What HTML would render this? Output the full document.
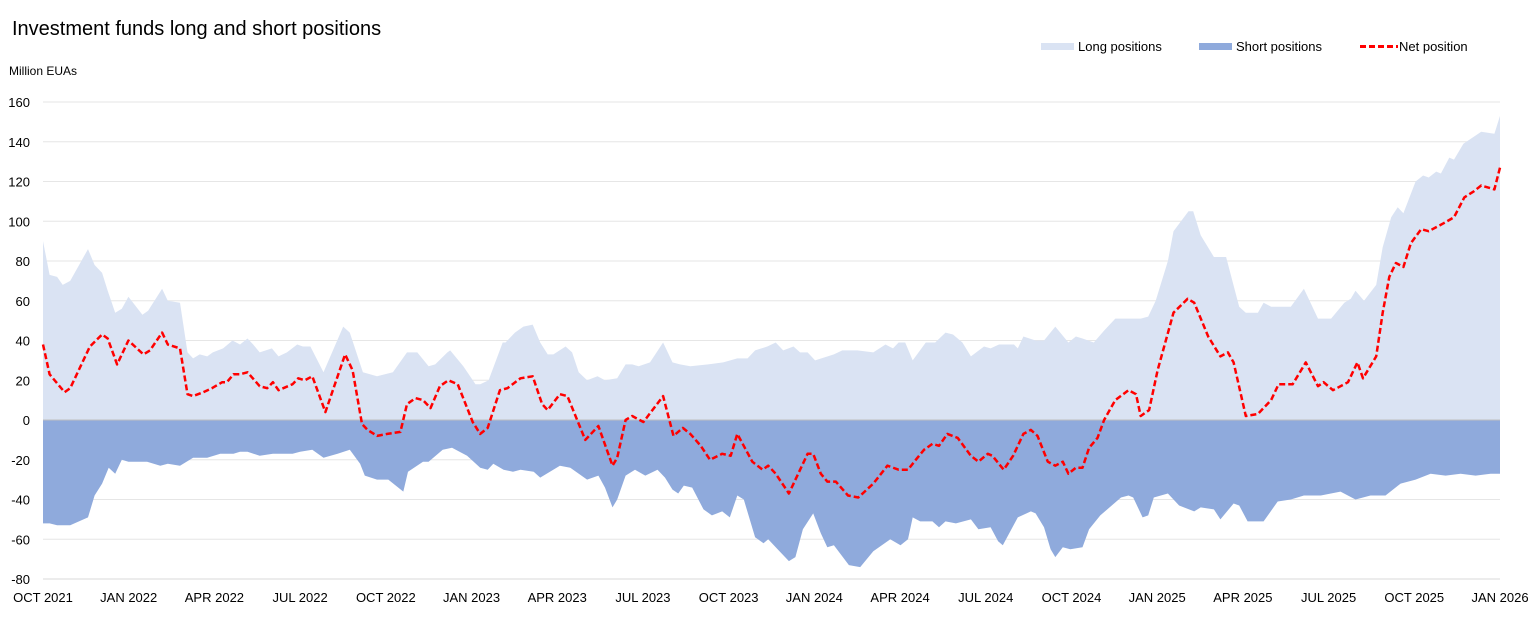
<!DOCTYPE html>
<html><head><meta charset="utf-8"><style>
body{margin:0;background:#fff;}
svg{display:block;font-family:"Liberation Sans",sans-serif;}
</style></head><body>
<svg id="chart" width="1532" height="618" viewBox="0 0 1532 618">
<text x="12" y="35" font-size="20" fill="#000">Investment funds long and short positions</text>
<text x="9" y="75" font-size="12" fill="#000">Million EUAs</text>
<g>
<g><rect x="1041" y="43" width="33" height="7" fill="#dae3f3"/><text x="1078" y="51" font-size="13">Long positions</text></g>
<g><rect x="1199" y="43" width="33" height="7" fill="#8faadc"/><text x="1236" y="51" font-size="13">Short positions</text></g>
<g><line x1="1360" y1="46.5" x2="1398" y2="46.5" stroke="#ff0000" stroke-width="3" stroke-dasharray="6,3"/><text x="1399" y="51" font-size="13">Net position</text></g>
</g>
<g id="grid"></g><g id="areas"></g><g id="zero"></g><g id="lines"></g><g id="ylab"></g><g id="xlab"></g>
</svg>
<script>
// x values are days since 1 Oct 2021
const xLabels=["OCT 2021","JAN 2022","APR 2022","JUL 2022","OCT 2022","JAN 2023","APR 2023","JUL 2023","OCT 2023","JAN 2024","APR 2024","JUL 2024","OCT 2024","JAN 2025","APR 2025","JUL 2025","OCT 2025","JAN 2026"];
const yTicks=[-80,-60,-40,-20,0,20,40,60,80,100,120,140,160];
const longDays=[0,7,15,21,29,48,55,63,69,77,84,91,106,112,127,133,146,154,160,167,175,181,192,202,210,218,224,231,244,251,260,271,277,285,299,320,327,341,356,373,388,399,411,418,431,434,448,461,466,475,490,493,503,512,522,530,538,544,557,564,571,580,591,599,612,621,628,635,647,661,671,679,690,709,725,740,751,759,772,781,789,800,807,815,823,843,852,868,885,898,906,912,919,927,941,951,962,970,980,989,1003,1010,1019,1035,1039,1045,1058,1067,1079,1093,1101,1108,1120,1131,1143,1170,1178,1186,1199,1205,1221,1226,1234,1248,1261,1275,1282,1295,1301,1309,1330,1344,1359,1373,1387,1394,1399,1408,1421,1428,1437,1444,1450,1463,1471,1477,1485,1490,1499,1504,1514,1533,1547,1553];
const longValues=[90,73,72,68,70,86,78,74,65,54,56,62,53,55,66,60,59,34,31,33,32,34,36,40,38,41,38,34,36,32,34,38,37,37,24,47,44,24,22,24,34,34,27,28,34,35,27,18,18,20,39,39,44,47,48,39,33,33,37,34,24,20,22,20,21,28,28,27,29,39,29,28,27,28,29,31,31,35,37,39,35,37,34,34,30,33,35,35,34,38,36,39,39,30,39,39,44,43,39,32,37,36,38,38,36,42,40,40,47,39,42,41,39,45,51,51,52,60,80,95,105,105,93,82,82,57,54,54,59,57,57,66,51,51,59,61,65,60,68,87,102,107,104,120,123,122,125,124,132,131,139,145,144,153];
const shortDays=[0,7,15,29,48,55,63,70,77,84,91,111,125,133,146,160,175,189,203,210,218,231,245,266,274,287,299,314,327,338,343,356,368,384,389,405,411,426,436,452,466,474,480,491,501,509,523,530,551,562,580,592,599,607,612,621,631,642,655,663,671,677,683,692,704,713,724,732,740,747,759,768,773,783,795,802,810,821,829,836,843,859,871,885,903,914,922,927,935,948,955,962,973,989,997,1010,1018,1023,1039,1053,1058,1067,1074,1079,1087,1095,1108,1115,1127,1149,1157,1162,1172,1178,1184,1199,1211,1227,1234,1248,1255,1269,1275,1284,1301,1316,1330,1344,1362,1383,1399,1415,1431,1447,1463,1479,1495,1511,1527,1543,1553];
const shortValues=[-52,-52,-53,-53,-49,-38,-32,-24,-27,-20,-21,-21,-23,-22,-23,-19,-19,-17,-17,-16,-16,-18,-17,-17,-16,-15,-19,-17,-15,-22,-28,-30,-30,-36,-26,-21,-21,-15,-14,-18,-24,-25,-22,-25,-26,-25,-26,-29,-23,-24,-30,-28,-34,-44,-40,-28,-25,-28,-25,-29,-35,-37,-33,-34,-45,-48,-46,-49,-38,-40,-59,-62,-60,-65,-71,-69,-55,-47,-57,-64,-63,-73,-74,-66,-60,-63,-60,-49,-51,-51,-54,-51,-52,-50,-55,-54,-61,-63,-49,-46,-47,-54,-65,-69,-64,-65,-64,-55,-48,-39,-38,-39,-49,-48,-39,-37,-43,-46,-44,-45,-50,-42,-43,-51,-51,-41,-40,-38,-38,-36,-40,-38,-38,-32,-30,-27,-28,-27,-28,-27,-27];
const netDays=[0,7,23,29,50,63,69,79,91,107,114,127,133,146,154,160,171,180,191,196,203,210,218,231,239,245,251,266,272,279,287,301,322,330,340,346,356,367,381,388,397,405,413,423,432,442,458,466,474,487,495,509,522,532,538,551,559,578,592,607,612,621,628,640,661,672,682,690,701,711,724,733,740,756,767,773,781,795,815,821,829,836,845,858,869,885,900,912,922,932,939,948,955,964,975,989,997,1007,1012,1024,1034,1045,1053,1060,1071,1079,1087,1093,1101,1108,1115,1124,1131,1143,1157,1165,1170,1179,1188,1205,1220,1227,1242,1255,1263,1269,1282,1295,1309,1317,1332,1346,1359,1365,1375,1391,1401,1407,1421,1428,1435,1442,1450,1458,1469,1477,1493,1504,1515,1525,1533,1547,1553];
const netValues=[38,23,14,16,37,43,41,28,40,33,35,44,38,36,13,12,14,16,19,19,23,23,24,17,16,19,15,18,21,20,22,4,33,25,-2,-5,-8,-7,-6,8,11,10,6,17,20,18,-1,-7,-4,15,16,21,22,8,5,13,12,-10,-3,-23,-19,0,2,-1,12,-8,-4,-7,-13,-20,-17,-18,-7,-21,-25,-23,-27,-37,-17,-17,-27,-31,-31,-38,-39,-32,-23,-25,-25,-19,-15,-12,-13,-7,-9,-18,-21,-17,-18,-25,-18,-7,-5,-8,-21,-23,-21,-27,-24,-24,-14,-9,0,10,15,13,2,5,25,54,61,59,42,32,34,29,2,3,10,18,18,29,17,19,15,19,29,21,32,54,72,79,77,89,96,95,99,102,112,115,118,116,127];

const NS="http://www.w3.org/2000/svg";
const X0=43,X1=1500,Y0=420,UNIT=39.75/20,DMAX=1553;
const xs=d=>X0+d/DMAX*(X1-X0);
const ys=v=>Y0-v*UNIT;
function mk(tag,attrs,parent){const e=document.createElementNS(NS,tag);for(const k in attrs)e.setAttribute(k,attrs[k]);parent.appendChild(e);return e;}
const grid=document.getElementById('grid'),ylab=document.getElementById('ylab'),xlab=document.getElementById('xlab');
yTicks.forEach(t=>{
  if(t!==0&&t!==-80){const l=mk('line',{x1:X0,x2:X1,y1:ys(t),y2:ys(t),stroke:'#e6e6e6','stroke-width':1},grid);
  
  }
  const tx=mk('text',{x:30,y:ys(t)+5,'font-size':13,'text-anchor':'end',fill:'#000'},ylab);
  tx.textContent=t;
  
  
});
const bl=mk('line',{x1:X0,x2:X1,y1:ys(-80),y2:ys(-80),stroke:'#d9d9d9'},grid);


xLabels.forEach((s,i)=>{
  const tx=mk('text',{x:X0+i*(X1-X0)/(xLabels.length-1),y:602,'font-size':13,'text-anchor':'middle',fill:'#000'},xlab);
  tx.textContent=s;
  
  
});
function area(ds,vs,fill,name){
  let d='M'+xs(ds[0])+','+Y0;
  ds.forEach((w,i)=>d+='L'+xs(w).toFixed(1)+','+ys(vs[i]).toFixed(1));
  d+='L'+xs(ds[ds.length-1])+','+Y0+'Z';
  const p=mk('path',{d:d,fill:fill},document.getElementById('areas'));
  
  
}
area(longDays,longValues,'#dae3f3','long-positions-area');
area(shortDays,shortValues,'#8faadc','short-positions-area');
const z=mk('line',{x1:X0,x2:X1,y1:Y0,y2:Y0,stroke:'#bfbfbf'},document.getElementById('zero'));


const pts=netDays.map((w,i)=>xs(w).toFixed(1)+','+ys(netValues[i]).toFixed(1)).join(' ');
const nl=mk('polyline',{points:pts,fill:'none',stroke:'#ff0000','stroke-width':2.5,'stroke-dasharray':'6,3','stroke-linejoin':'round'},document.getElementById('lines'));


</script>
</body></html>
